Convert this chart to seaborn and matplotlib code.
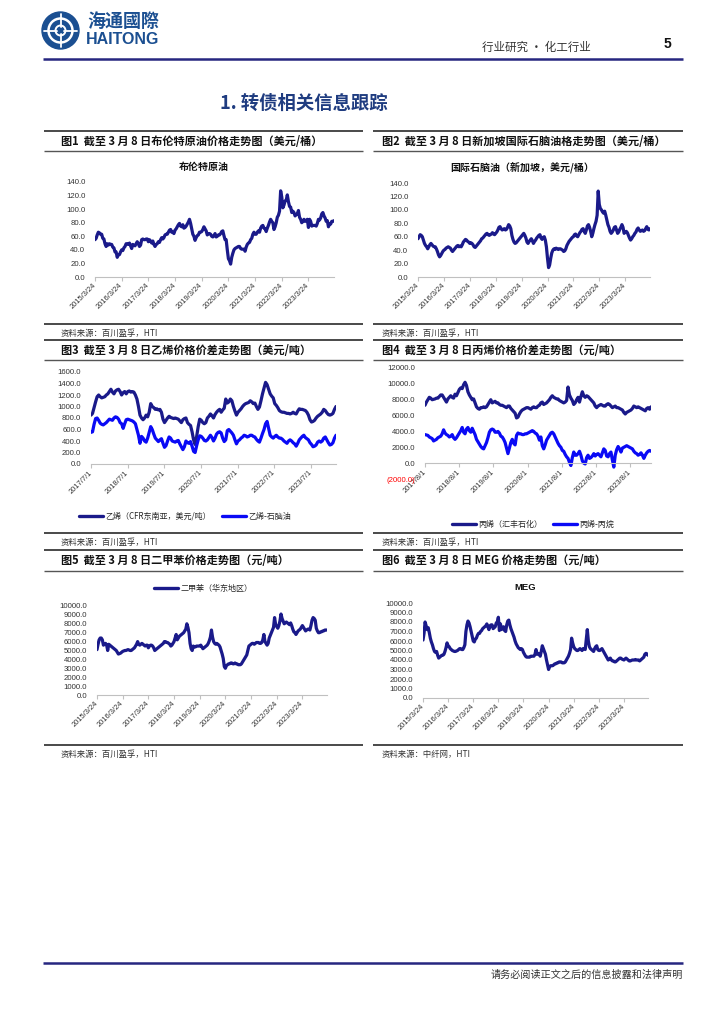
import numpy as np
import pandas as pd
import matplotlib
matplotlib.use("Agg")
import matplotlib.pyplot as plt
import seaborn as sns
from matplotlib.lines import Line2D
from matplotlib.patches import Circle
from matplotlib.font_manager import FontProperties

# ---------------- data ----------------
ticks_0324 = ['2015/3/24', '2016/3/24', '2017/3/24', '2018/3/24', '2019/3/24',
              '2020/3/24', '2021/3/24', '2022/3/24', '2023/3/24']
ticks_0701 = ['2017/7/1', '2018/7/1', '2019/7/1', '2020/7/1', '2021/7/1', '2022/7/1', '2023/7/1']
ticks_0801 = ['2017/8/1', '2018/8/1', '2019/8/1', '2020/8/1', '2021/8/1', '2022/8/1', '2023/8/1']

span_a = ('2015-03-24', '2024-03-08')
span_c3 = ('2017-07-01', '2024-03-08')
span_c4 = ('2017-08-01', '2024-03-08')

brent = [
    55, 57, 62, 66, 65, 63, 63, 57, 56, 49, 45, 49, 47, 49, 48, 48, 44, 43, 37, 37, 29, 33, 33, 37,
    40, 39, 43, 45, 49, 49, 48, 50, 46, 42, 48, 47, 46, 49, 52, 49, 45, 47, 55, 56, 55, 55, 56, 56,
    52, 55, 53, 50, 53, 48, 45, 48, 49, 52, 51, 55, 58, 56, 58, 62, 63, 63, 66, 69, 70, 66, 66, 64,
    69, 71, 74, 77, 79, 75, 74, 77, 72, 73, 75, 78, 81, 85, 79, 71, 63, 60, 54, 58, 61, 62, 66, 66,
    67, 70, 74, 71, 68, 62, 64, 64, 63, 60, 59, 61, 64, 59, 60, 62, 62, 64, 67, 68, 61, 55, 55, 40,
    27, 24, 19, 29, 35, 40, 42, 43, 44, 45, 45, 42, 41, 41, 41, 38, 44, 48, 50, 51, 55, 57, 63, 66,
    63, 63, 66, 68, 66, 72, 75, 76, 72, 71, 67, 72, 76, 81, 85, 82, 80, 70, 74, 80, 88, 91, 97, 127,
    118, 102, 106, 112, 113, 121, 111, 104, 103, 95, 97, 95, 90, 92, 93, 98, 88, 85, 80, 82, 85, 82, 83, 85,
    73, 85, 82, 75, 76, 76, 76, 75, 79, 85, 84, 87, 93, 95, 90, 87, 82, 83, 74, 78, 78, 82, 82, 83,
]

naphtha = [
    57, 60, 63, 62, 60, 55, 50, 47, 45, 42, 45, 48, 50, 48, 46, 45, 45, 42, 38, 33, 30, 32, 35, 38,
    40, 41, 43, 44, 45, 44, 43, 40, 38, 40, 42, 44, 46, 47, 45, 46, 45, 48, 52, 54, 56, 55, 53, 52,
    50, 51, 50, 48, 45, 44, 46, 48, 50, 52, 54, 57, 58, 60, 62, 64, 65, 63, 62, 63, 64, 66, 64, 63,
    65, 67, 70, 74, 75, 72, 70, 71, 72, 70, 71, 74, 78, 76, 72, 62, 56, 52, 50, 51, 53, 55, 57, 59,
    61, 63, 65, 62, 58, 52, 50, 53, 55, 57, 54, 50, 53, 55, 58, 60, 62, 63, 58, 56, 59, 60, 55, 45,
    28, 14, 18, 28, 36, 40, 42, 41, 43, 42, 41, 42, 42, 41, 40, 38, 39, 42, 47, 50, 53, 55, 57, 59,
    60, 63, 64, 61, 60, 63, 66, 68, 71, 72, 68, 65, 70, 76, 78, 74, 68, 60, 65, 72, 78, 83, 92, 128,
    108, 102, 100, 97, 95, 98, 92, 85, 78, 74, 68, 65, 67, 70, 74, 75, 70, 65, 67, 71, 74, 78, 74, 65,
    67, 68, 66, 62, 58, 55, 57, 60, 62, 65, 67, 71, 73, 70, 68, 69, 70, 68, 69, 72, 75, 71, 70, 72,
]

ethylene = [
    850, 880, 980, 1080, 1170, 1200, 1170, 1150, 1160, 1170, 1200, 1220, 1260, 1300, 1250, 1220, 1270, 1290, 1300, 1260, 1200, 1240, 1260, 1220,
    1260, 1270, 1250, 1260, 1250, 1200, 1130, 1000, 850, 800, 770, 800, 850, 820, 900, 1050, 1000, 980, 950, 960, 940, 950, 900, 780,
    720, 760, 800, 830, 810, 800, 790, 800, 790, 780, 750, 720, 770, 790, 800, 720, 690, 670, 560, 420, 340, 480, 650, 780,
    760, 720, 700, 720, 800, 830, 870, 840, 800, 860, 900, 930, 950, 900, 940, 970, 1130, 1060, 1080, 1130, 1100, 1000, 920, 850,
    900, 930, 960, 1000, 1030, 1050, 1060, 1070, 1100, 1080, 1050, 1060, 1000, 950, 990, 1100, 1220, 1320, 1420, 1380, 1300, 1220, 1180, 1150,
    1050, 1020, 980, 930, 910, 900, 900, 890, 880, 880, 870, 880, 900, 880, 870, 920, 960, 950, 950, 940, 930, 900, 850, 770,
    730, 740, 760, 800, 830, 850, 870, 900, 950, 930, 890, 860, 850, 860, 880, 950, 1000,
]
ethylene_spread = [
    550, 560, 690, 790, 800, 760, 710, 690, 680, 700, 720, 750, 780, 770, 760, 800, 820, 810, 780, 720, 700, 620, 700, 770,
    780, 770, 760, 750, 730, 700, 600, 500, 360, 480, 450, 400, 380, 450, 550, 650, 600, 520, 450, 420, 390, 420, 440, 360,
    290, 320, 400, 470, 450, 400, 390, 380, 400, 410, 350, 300, 250, 300, 400, 370, 360, 390, 310, 220, 200, 320, 420, 490,
    480, 450, 410, 400, 420, 460, 500, 460, 400, 450, 520, 550, 560, 540, 450, 390, 420, 580, 600, 570, 540, 500, 420, 350,
    400, 420, 450, 470, 500, 490, 470, 480, 500, 500, 480, 470, 430, 400, 380, 450, 530, 600, 700, 740, 620, 500, 470, 450,
    480, 500, 470, 450, 450, 430, 400, 380, 360, 400, 420, 400, 370, 350, 310, 360, 420, 450, 480, 500, 460, 440, 420, 370,
    340, 300, 310, 330, 380, 400, 380, 400, 450, 470, 420, 370, 330, 340, 370, 450, 500,
]

propylene = [
    7300, 7700, 8000, 8300, 8200, 8000, 8050, 8100, 8200, 8200, 8400, 8600, 8600, 8300, 8000, 7700, 8100, 8300, 8500, 8300, 8200, 8700, 8500, 8900,
    9300, 9500, 9400, 9900, 10200, 9800, 9000, 8600, 8300, 8000, 8100, 7600, 7100, 6900, 6800, 7000, 7000, 7100, 7000, 7100, 7400, 7700, 8000, 7600,
    7700, 7800, 7600, 7600, 7400, 7300, 7300, 7200, 7100, 7000, 7200, 7200, 6900, 6700, 6500, 6300, 5700, 5800, 6200, 6500, 6700, 6800, 6900, 7000,
    7000, 6900, 6800, 7000, 7100, 7000, 7000, 7200, 7300, 7600, 7700, 7400, 7500, 7600, 7800, 8000, 8300, 8500, 8300, 8200, 8100, 8100, 7900, 7800,
    7700, 7600, 7700, 7900, 9600, 8600, 8200, 7900, 7400, 7600, 8000, 8300, 7700, 8400, 9000, 8500, 8300, 8500, 8400, 8200, 8000, 7800, 7600, 7200,
    7000, 7200, 7300, 7400, 7300, 7200, 7200, 7400, 7500, 7400, 7200, 7000, 7100, 7200, 7000, 7000, 6900, 6800, 6700, 6400, 6200, 6400, 6500, 6600,
    6700, 6900, 7200, 7100, 7000, 7100, 7000, 6900, 6800, 6700, 6600, 6900, 7000, 6800, 7100,
]
propylene_spread = [
    3600, 3550, 3500, 3300, 3200, 3100, 2800, 2900, 3000, 3200, 3300, 3400, 3700, 4200, 3800, 3600, 3500, 3300, 3400, 3600, 3200, 3000, 3200, 3500,
    3800, 4100, 4500, 3900, 3700, 4300, 4500, 4100, 3900, 4400, 4000, 3600, 3000, 2700, 2400, 2100, 1900, 1800, 2200, 2600, 3200, 3900, 4200, 4300,
    4200, 3900, 3900, 4000, 3800, 3400, 3300, 3000, 2600, 1900, 1200, 1900, 2600, 3000, 2500, 2300, 3500, 3800, 3700, 3700, 3600, 3600, 3700, 3700,
    3800, 3900, 4000, 4100, 4000, 3800, 3700, 3400, 2900, 3300, 2200, 1800, 2300, 2900, 3200, 3500, 3800, 3900, 3700, 3300, 2900, 2500, 2200, 2000,
    1600, 1500, 1100, 800, 600, 100, -300, 700, 1400, 1000, 1000, 1200, 1500, 1000, 300, 0, -100, 700, 1000, 600, 700, 900, 1200, 900,
    1100, 1200, 1000, 800, 1300, 1800, 1600, 900, 800, 1200, 1400, 400, -500, 1000, 1700, 2100, 1800, 1400, 1900, 2000, 2100, 2200, 2100, 2000,
    1900, 1800, 1500, 1300, 1200, 1000, 1100, 1300, 1000, 600, 1000, 1300, 1500, 1600, 1500,
]

xylene = [
    5100, 5700, 6200, 6400, 6400, 6200, 5600, 5700, 5800, 5600, 5000, 5700, 5600, 5500, 5400, 5300, 5200, 5100, 5000, 4800, 4600, 4650, 4700, 4800,
    4900, 4950, 5000, 5000, 5050, 5100, 5050, 5000, 5000, 5100, 5200, 5300, 5500, 5700, 6000, 5700, 5600, 5700, 5800, 5700, 5600, 5500, 5600, 5600,
    5300, 5500, 5600, 5600, 5500, 5300, 5000, 5100, 5200, 5300, 5400, 5500, 5600, 5700, 5800, 6000, 6000, 5900, 5900, 5800, 5700, 5500, 5600, 5800,
    6000, 6400, 6800, 6200, 6400, 6600, 6700, 6800, 6900, 7000, 7200, 7400, 8000, 7600, 7000, 5800, 5200, 5000, 5500, 5400, 5400, 5500, 5500, 5500,
    5500, 5600, 5400, 5200, 5300, 5400, 5500, 5600, 5800, 6100, 6500, 7300, 6500, 6000, 5800, 5700, 5800, 5700, 5600, 5400, 5000, 4600, 4100, 3200,
    3000, 3300, 3400, 3500, 3500, 3600, 3600, 3500, 3500, 3600, 3500, 3500, 3400, 3400, 3400, 3500, 3700, 3900, 4100, 4300, 4500, 5000, 5500, 5600,
    5700, 5800, 5800, 5700, 5800, 5900, 5900, 5900, 5800, 5800, 5900, 6200, 6800, 6000, 5800, 5600, 5800, 6400, 6700, 7000, 7300, 7600, 8700, 7900,
    7700, 7500, 7800, 8300, 9100, 8600, 8300, 8000, 8100, 8200, 8100, 8000, 7900, 8100, 7800, 7400, 7100, 7000, 6800, 7000, 7200, 7300, 7400, 7600,
    7800, 7600, 7400, 7200, 7300, 7400, 7400, 7300, 7800, 8400, 8700, 8600, 8400, 7500, 7200, 7000, 7000, 7100, 7100, 7200, 7200, 7300, 7300, 7300,
]

meg = [
    6100, 6800, 8000, 7600, 7200, 7400, 6900, 6300, 5900, 5600, 5200, 4900, 4800, 4900, 4500, 4200, 4300, 4400, 4500, 4500, 4600, 4900, 5300, 5800,
    5500, 5400, 5200, 5100, 5000, 4950, 4900, 4900, 4950, 5000, 5100, 5200, 5200, 5100, 5100, 5300, 5600, 7000, 7700, 8100, 7900, 7500, 7000, 6500,
    6000, 5900, 6200, 6300, 6600, 6800, 6800, 7000, 7100, 7300, 7400, 7500, 7600, 7800, 7500, 7200, 7600, 7700, 7700, 7300, 7400, 7500, 7900, 8000,
    8500, 7100, 7800, 7200, 7400, 7500, 7100, 7000, 7700, 8100, 8200, 7700, 7300, 7000, 6700, 6400, 6000, 5700, 5500, 5300, 5200, 5100, 5200, 5100,
    4800, 4600, 4400, 4300, 4300, 4300, 4300, 4400, 4400, 4400, 4400, 4600, 5100, 4600, 4700, 4600, 4400, 4900, 5500, 5200, 4900, 4600, 4000, 3500,
    3000, 3300, 3400, 3400, 3400, 3500, 3600, 3600, 3700, 3700, 3800, 3800, 3800, 3700, 3700, 3700, 3800, 4000, 4200, 4400, 4700, 5100, 6300, 5800,
    5400, 5200, 5100, 5000, 5000, 5100, 5200, 5100, 5000, 5200, 5200, 5100, 6200, 7200, 6000, 5400, 5200, 5100, 5000, 4900, 5200, 5400, 5500, 5100,
    5000, 5000, 5100, 5200, 5000, 4800, 4600, 4400, 4200, 4000, 4100, 4200, 4000, 3900, 3900, 3800, 3800, 3900, 4000, 4100, 4200, 4200, 4100, 4050,
    4000, 4100, 4200, 4100, 4000, 3900, 3900, 3950, 4000, 4000, 4000, 4050, 4000, 4000, 4000, 3900, 4000, 4100, 4200, 4300, 4600, 4700, 4650, 4500,
]

# ---------------- style ----------------
sns.set_theme(style="white")
plt.rcParams['font.family'] = ['Liberation Sans', 'Noto Sans CJK SC', 'DejaVu Sans']
CJK = ['Noto Sans CJK SC', 'DejaVu Sans']
NAVY = '#1a1a8a'
BLUE = '#0a0af5'
LW = 2.3

W, H = 724, 1024
fig = plt.figure(figsize=(W / 100, H / 100), dpi=100)
fig.patch.set_facecolor('white')

deco = fig.add_axes([0, 0, 1, 1])
deco.set_xlim(0, W)
deco.set_ylim(H, 0)
deco.axis('off')


def rect(x0, y0, x1, y1):
    return [x0 / W, 1 - y1 / H, (x1 - x0) / W, (y1 - y0) / H]


def hline(y, x0, x1, lw, color):
    deco.plot([x0, x1], [y, y], color=color, lw=lw, solid_capstyle='butt')


def txt(x, y, s, size, **kw):
    kw.setdefault('family', CJK)
    kw.setdefault('va', 'center')
    deco.text(x, y, s, fontsize=size, **kw)


# ---------------- header / footer ----------------
deco.add_patch(Circle((60.5, 30.5), 18.5, color='#1b4f91', zorder=3))
deco.add_patch(Circle((60.5, 30.5), 12, fill=False, ec='white', lw=1.8, zorder=4))
deco.add_patch(Circle((60.5, 30.5), 5, fill=False, ec='white', lw=1.4, zorder=4))
deco.plot([60.5, 60.5], [14, 47], color='white', lw=1.3, zorder=4)
deco.plot([44, 77], [30.5, 30.5], color='white', lw=1.3, zorder=4)
deco.add_patch(Circle((60.5, 30.5), 2.2, color='#1b4f91', zorder=5))
txt(87, 21, '海通國際', 13, color='#1b4f91', weight='bold')
txt(86, 39, 'HAITONG', 11.5, color='#1b4f91', weight='bold', family=['Liberation Sans'])
txt(482, 47, '行业研究 • 化工行业', 8.3, color='#333333')
txt(667, 44, '5', 10, color='#111111', weight='bold', ha='center', family=['Liberation Sans'])
hline(58.5, 43, 683, 1.8, '#262680')

txt(220, 103, '1. 转债相关信息跟踪', 13.2, color='#1f3c80', weight='bold')

hline(963, 43, 683, 1.8, '#262680')
txt(683, 975, '请务必阅读正文之后的信息披露和法律声明', 7.3, color='#333333', ha='right')

# ---------------- panel frames ----------------
panels = {'L': (44, 363, 61), 'R': (373, 683, 382)}
rows = [(131, 151, 324), (340, 360, 533), (550, 571, 745)]
fig_titles = [
    ('图1  截至 3 月 8 日布伦特原油价格走势图（美元/桶）', '图2  截至 3 月 8 日新加坡国际石脑油格走势图（美元/桶）'),
    ('图3  截至 3 月 8 日乙烯价格价差走势图（美元/吨）', '图4  截至 3 月 8 日丙烯价格价差走势图（元/吨）'),
    ('图5  截至 3 月 8 日二甲苯价格走势图（元/吨）', '图6  截至 3 月 8 日 MEG 价格走势图（元/吨）'),
]
sources = [
    ('资料来源：百川盈孚，HTI', '资料来源：百川盈孚，HTI'),
    ('资料来源：百川盈孚，HTI', '资料来源：百川盈孚，HTI'),
    ('资料来源：百川盈孚，HTI', '资料来源：中纤网，HTI'),
]
for (ytop, yund, ybot), tt, ss in zip(rows, fig_titles, sources):
    for side, t, s in zip(('L', 'R'), tt, ss):
        x0, x1, xt = panels[side]
        hline(ytop, x0, x1, 1.3, '#3a3a3a')
        hline(yund, x0, x1, 1.0, '#555555')
        hline(ybot, x0, x1, 1.3, '#3a3a3a')
        txt(xt, (ytop + yund) / 2 + 0.5, t, 8, color='#111111', weight='bold')
        txt(xt, ybot + 9, s, 6, color='#333333')


# ---------------- charts ----------------
def fmt1(v):
    return f'({abs(v):.1f})' if v < 0 else f'{v:.1f}'


def chart(box, span, series, ylim, ystep, tick_strs, zero_axis=False):
    ax = fig.add_axes(rect(*box))
    ax.set_facecolor('none')
    n = len(series[0][0])
    dates = pd.date_range(span[0], span[1], periods=n)
    for vals, color in series:
        df = pd.DataFrame({'date': dates, 'value': vals})
        sns.lineplot(data=df, x='date', y='value', ax=ax, color=color, lw=LW, legend=False)
    for s in ('top', 'right', 'left'):
        ax.spines[s].set_visible(False)
    ax.spines['bottom'].set_color('#c0c0c0')
    ax.spines['bottom'].set_linewidth(0.8)
    if zero_axis:
        ax.spines['bottom'].set_position(('data', 0))
    ax.set_xlim(dates[0], dates[-1])
    ax.set_ylim(*ylim)
    yt = np.arange(ylim[0], ylim[1] + ystep / 2, ystep)
    ax.set_yticks(yt)
    ax.set_yticklabels([fmt1(v) for v in yt])
    ax.set_xticks(pd.to_datetime(tick_strs))
    ax.set_xticklabels(tick_strs, rotation=45, ha='right', va='center', rotation_mode='anchor')
    ax.tick_params(axis='x', length=3, width=0.8, color='#c0c0c0', pad=2.5,
                   labelsize=5.4, labelcolor='#333333', bottom=True)
    ax.tick_params(axis='y', length=0, pad=7, labelsize=5.6, labelcolor='#333333')
    for lab, v in zip(ax.get_yticklabels(), yt):
        if v < 0:
            lab.set_color('#ff0000')
    ax.set_xlabel('')
    ax.set_ylabel('')
    ax.grid(False)
    return ax


leg_font = FontProperties(family=CJK, size=5.8)


def legend(ax, items, cx, cy):
    handles = [Line2D([], [], color=c, lw=2.4) for c, _ in items]
    ax.legend(handles, [l for _, l in items], loc='center', bbox_to_anchor=(cx / W, 1 - cy / H),
              bbox_transform=fig.transFigure, ncol=len(items), frameon=False, prop=leg_font,
              handlelength=3.0, handletextpad=0.3, columnspacing=1.3, borderaxespad=0, borderpad=0)


ax1 = chart((95, 182, 334, 277), span_a, [(brent, NAVY)], (0, 140), 20, ticks_0324)
txt(204, 167, '布伦特原油', 7.2, color='#111111', weight='bold', ha='center')

ax2 = chart((418, 183, 650, 277), span_a, [(naphtha, NAVY)], (0, 140), 20, ticks_0324)
txt(522, 167, '国际石脑油（新加坡，美元/桶）', 7.2, color='#111111', weight='bold', ha='center')

ax3 = chart((91, 372, 336, 464), span_c3, [(ethylene, NAVY), (ethylene_spread, BLUE)],
            (0, 1600), 200, ticks_0701)
legend(ax3, [(NAVY, '乙烯（CFR东南亚，美元/吨）'), (BLUE, '乙烯-石脑油')], 185, 516)

ax4 = chart((425, 368, 651, 479), span_c4, [(propylene, NAVY), (propylene_spread, BLUE)],
            (-2000, 12000), 2000, ticks_0801, zero_axis=True)
legend(ax4, [(NAVY, '丙烯（汇丰石化）'), (BLUE, '丙烯-丙烷')], 533, 524)

ax5 = chart((97, 606, 327, 695), span_a, [(xylene, NAVY)], (0, 10000), 1000, ticks_0324)
legend(ax5, [(NAVY, '二甲苯（华东地区）')], 203, 588)

ax6 = chart((423, 603, 648, 698), span_a, [(meg, NAVY)], (0, 10000), 1000, ticks_0324)
txt(525, 588, 'MEG', 6.8, color='#111111', weight='bold', ha='center', family=['Liberation Sans'])

fig.savefig('out.png', dpi=100, facecolor='white')
